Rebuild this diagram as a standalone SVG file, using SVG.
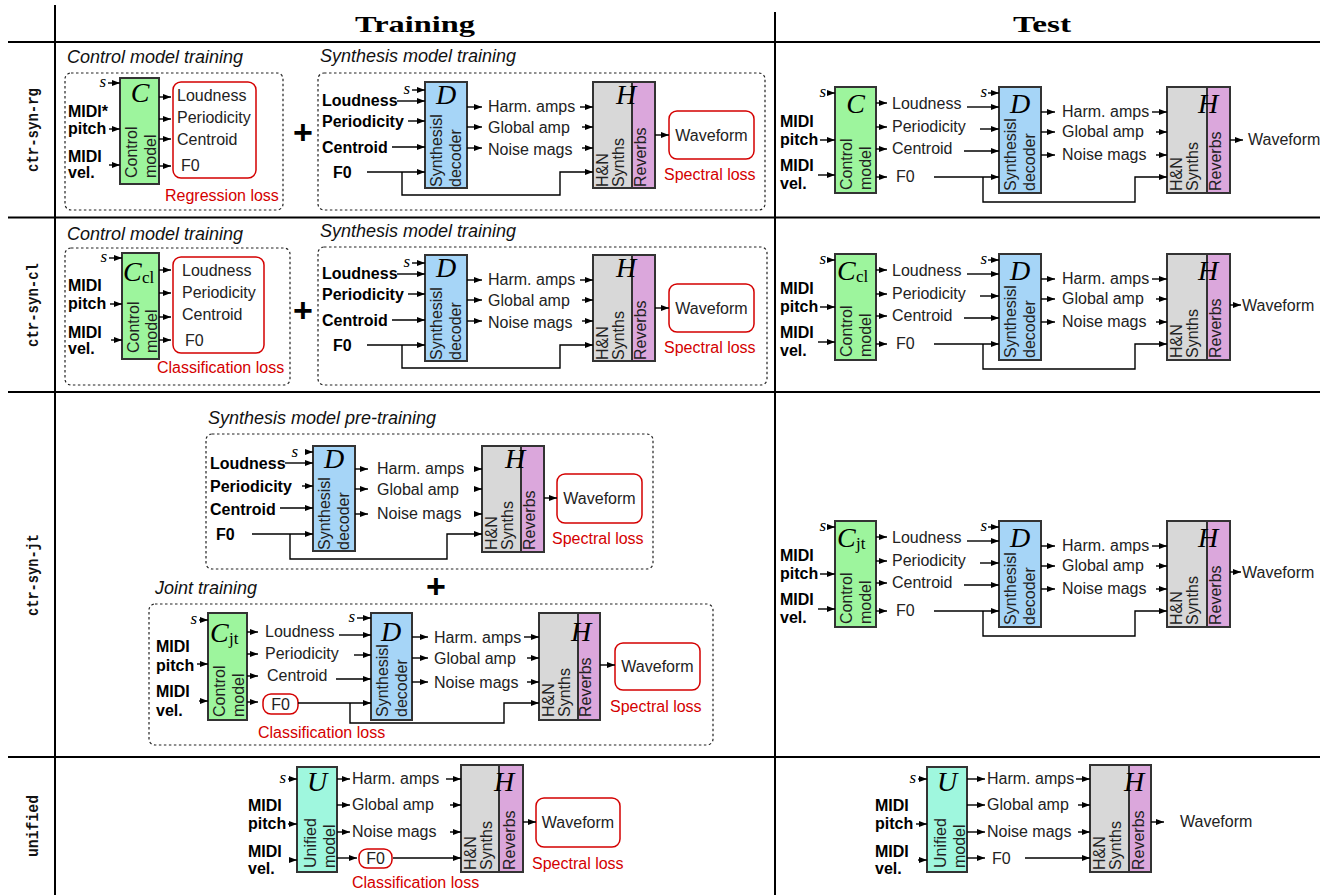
<svg xmlns="http://www.w3.org/2000/svg" width="1320" height="895" viewBox="0 0 1320 895">
<defs>
<marker id="ah" viewBox="0 0 8 6" refX="8" refY="3" markerWidth="8" markerHeight="6" markerUnits="userSpaceOnUse" orient="auto"><path d="M0,0 L8,3 L0,6 z" fill="#000"/></marker>
<style>
.tbl{stroke:#000;stroke-width:2;fill:none}
.hd{font-family:"Liberation Serif",serif;font-weight:bold;font-size:24px;fill:#000}
.rl{font-family:"Liberation Mono",monospace;font-weight:bold;font-size:16.5px;fill:#111}
.ti{font-family:"Liberation Sans",sans-serif;font-style:italic;font-size:18px;fill:#111}
.t{font-family:"Liberation Sans",sans-serif;font-size:16px;fill:#222}
.tb{font-family:"Liberation Sans",sans-serif;font-weight:bold;font-size:16px;fill:#000}
.rd{font-family:"Liberation Sans",sans-serif;font-size:16px;fill:#d40000}
.m{font-family:"Liberation Serif",serif;font-style:italic;font-size:28px;fill:#000}
.sub{font-family:"Liberation Serif",serif;font-size:17px;fill:#000}
.s{font-family:"Liberation Serif",serif;font-style:italic;font-size:17px;fill:#000}
.plus{font-family:"Liberation Sans",sans-serif;font-weight:bold;font-size:34px;fill:#000}
.bx{stroke:#333;stroke-width:2}
.gr{fill:#9df59d}.bl{fill:#a6d5f7}.hg{fill:#d8d8d8}.pu{fill:#dba7dc}.tq{fill:#9ff7de}
.dash{fill:none;stroke:#222;stroke-width:1.2;stroke-dasharray:2.5 2.5}
.loss{fill:#fff;stroke:#d40000;stroke-width:1.5}
.c{fill:none;stroke:#000;stroke-width:1.4}
.a{marker-end:url(#ah)}
</style>
</defs>
<rect x="0" y="0" width="1320" height="895" fill="#fff"/>

<g id="table">
<path class="tbl" d="M55,5 V895 M775,12 V895 M8,42 H1320 M8,217.5 H1320 M8,392 H1320 M8,757 H1320"/>
<text class="hd" x="415" y="32" text-anchor="middle" textLength="120" lengthAdjust="spacingAndGlyphs">Training</text>
<text class="hd" x="1042" y="32" text-anchor="middle" textLength="58" lengthAdjust="spacingAndGlyphs">Test</text>
<text class="rl" transform="translate(38,130) rotate(-90)" text-anchor="middle" textLength="84" lengthAdjust="spacingAndGlyphs">ctr-syn-rg</text>
<text class="rl" transform="translate(38,305) rotate(-90)" text-anchor="middle" textLength="84" lengthAdjust="spacingAndGlyphs">ctr-syn-cl</text>
<text class="rl" transform="translate(38,575) rotate(-90)" text-anchor="middle" textLength="82" lengthAdjust="spacingAndGlyphs">ctr-syn-jt</text>
<text class="rl" transform="translate(38,826) rotate(-90)" text-anchor="middle" textLength="62" lengthAdjust="spacingAndGlyphs">unified</text>
</g>

<!-- ============ ROW 1 control training ============ -->
<g id="r1-ctrl">
<text class="ti" x="67" y="63">Control model training</text>
<rect class="dash" x="65" y="73" width="218" height="137" rx="6"/>
<text class="s" x="106" y="87" text-anchor="end">s</text>
<text class="tb" x="68" y="117">MIDI*</text>
<text class="tb" x="68" y="134">pitch</text>
<text class="tb" x="68" y="162">MIDI</text>
<text class="tb" x="68" y="178">vel.</text>
<g id="r1-C">
<rect class="bx gr" x="120" y="78" width="39" height="106"/>
<text class="m" x="140" y="102" text-anchor="middle">C</text>
<text class="t" transform="translate(137,178) rotate(-90)">Control</text>
<text class="t" transform="translate(156,178) rotate(-90)">model</text>
</g>
<g id="r1-regbox">
<rect class="loss" x="173" y="82" width="83" height="96" rx="8"/>
<text class="t" x="177" y="101">Loudness</text>
<text class="t" x="177" y="123">Periodicity</text>
<text class="t" x="177" y="145">Centroid</text>
<text class="t" x="181" y="171">F0</text>
</g>
<text class="rd" x="165" y="201">Regression loss</text>
<text class="plus" x="303" y="144" text-anchor="middle">+</text>
</g>

<g id="r1-synth">
<text class="ti" x="320" y="62">Synthesis model training</text>
<rect class="dash" x="318" y="73" width="447" height="137" rx="6"/>
<text class="s" x="410" y="94" text-anchor="end">s</text>
<text class="tb" x="322" y="106">Loudness</text>
<text class="tb" x="322" y="127">Periodicity</text>
<text class="tb" x="322" y="153">Centroid</text>
<text class="tb" x="333" y="178">F0</text>
<g id="r1-D">
<rect class="bx bl" x="425" y="82" width="42" height="106"/>
<text class="m" x="446" y="104" text-anchor="middle">D</text>
<text class="t" transform="translate(442,187) rotate(-90)">Synthesisl</text>
<text class="t" transform="translate(461,187) rotate(-90)">decoder</text>
</g>
<text class="t" x="488" y="112">Harm. amps</text>
<text class="t" x="488" y="133">Global amp</text>
<text class="t" x="488" y="155">Noise mags</text>
<g id="r1-H">
<rect class="bx hg" x="593" y="82" width="39" height="106"/>
<rect class="bx pu" x="632" y="82" width="23" height="106"/>
<text class="m" x="626" y="104" text-anchor="middle">H</text>
<text class="t" transform="translate(608,187) rotate(-90)">H&amp;N</text>
<text class="t" transform="translate(623.5,187) rotate(-90)">Synths</text>
<text class="t" transform="translate(646,187) rotate(-90)">Reverbs</text>
</g>
<g id="r1-wave">
<rect class="loss" x="669" y="111" width="85" height="48" rx="8"/>
<text class="t" x="711.5" y="141" text-anchor="middle">Waveform</text>
</g>
<text class="rd" x="664" y="180">Spectral loss</text>
</g>

<g id="r1-test">
<text class="s" x="826" y="97" text-anchor="end">s</text>
<text class="tb" x="780" y="127">MIDI</text>
<text class="tb" x="780" y="145">pitch</text>
<text class="tb" x="780" y="171">MIDI</text>
<text class="tb" x="780" y="189">vel.</text>
<g id="t1-C">
<rect class="bx gr" x="835" y="87" width="41" height="106"/>
<text class="m" x="855.5" y="113" text-anchor="middle">C</text>
<text class="t" transform="translate(852,190) rotate(-90)">Control</text>
<text class="t" transform="translate(871,190) rotate(-90)">model</text>
</g>
<text class="t" x="892" y="109">Loudness</text>
<text class="t" x="892" y="132">Periodicity</text>
<text class="t" x="892" y="154">Centroid</text>
<text class="t" x="896" y="182">F0</text>
<text class="s" x="987" y="97" text-anchor="end">s</text>
<g id="t1-D">
<rect class="bx bl" x="999" y="87" width="42" height="106"/>
<text class="m" x="1020" y="113" text-anchor="middle">D</text>
<text class="t" transform="translate(1016,191) rotate(-90)">Synthesisl</text>
<text class="t" transform="translate(1035,191) rotate(-90)">decoder</text>
</g>
<text class="t" x="1062" y="117">Harm. amps</text>
<text class="t" x="1062" y="137">Global amp</text>
<text class="t" x="1062" y="160">Noise mags</text>
<g id="t1-H">
<rect class="bx hg" x="1167" y="87" width="40" height="106"/>
<rect class="bx pu" x="1207" y="87" width="23" height="106"/>
<text class="m" x="1208" y="113" text-anchor="middle">H</text>
<text class="t" transform="translate(1182,191) rotate(-90)">H&amp;N</text>
<text class="t" transform="translate(1197.5,191) rotate(-90)">Synths</text>
<text class="t" transform="translate(1221,191) rotate(-90)">Reverbs</text>
</g>
<text class="t" x="1248" y="145">Waveform</text>
</g>

<!-- ============ ROW 2 ============ -->
<g id="r2-ctrl">
<text class="ti" x="67" y="240">Control model training</text>
<rect class="dash" x="65" y="248" width="225" height="137" rx="6"/>
<text class="s" x="107" y="262" text-anchor="end">s</text>
<text class="tb" x="68" y="291">MIDI</text>
<text class="tb" x="68" y="309">pitch</text>
<text class="tb" x="68" y="338">MIDI</text>
<text class="tb" x="68" y="354">vel.</text>
<g id="r2-C">
<rect class="bx gr" x="122" y="253" width="37" height="106"/>
<text class="m" x="123" y="281">C</text><text class="sub" x="142" y="283">cl</text>
<text class="t" transform="translate(139,353) rotate(-90)">Control</text>
<text class="t" transform="translate(157,353) rotate(-90)">model</text>
</g>
<g id="r2-clsbox">
<rect class="loss" x="173" y="257" width="91" height="96" rx="8"/>
<text class="t" x="182" y="276">Loudness</text>
<text class="t" x="182" y="298">Periodicity</text>
<text class="t" x="182" y="320">Centroid</text>
<text class="t" x="185" y="346">F0</text>
</g>
<text class="rd" x="157" y="373">Classification loss</text>
<text class="plus" x="303" y="322" text-anchor="middle">+</text>
</g>

<g id="r2-synth" transform="translate(0,173)">
<text class="ti" x="320" y="64">Synthesis model training</text>
<rect class="dash" x="318" y="74" width="449" height="138" rx="6"/>
<text class="s" x="410" y="94" text-anchor="end">s</text>
<text class="tb" x="322" y="106">Loudness</text>
<text class="tb" x="322" y="127">Periodicity</text>
<text class="tb" x="322" y="153">Centroid</text>
<text class="tb" x="333" y="178">F0</text>
<g id="r2-D">
<rect class="bx bl" x="425" y="82" width="42" height="106"/>
<text class="m" x="446" y="104" text-anchor="middle">D</text>
<text class="t" transform="translate(442,187) rotate(-90)">Synthesisl</text>
<text class="t" transform="translate(461,187) rotate(-90)">decoder</text>
</g>
<text class="t" x="488" y="112">Harm. amps</text>
<text class="t" x="488" y="133">Global amp</text>
<text class="t" x="488" y="155">Noise mags</text>
<g id="r2-H">
<rect class="bx hg" x="593" y="82" width="39" height="106"/>
<rect class="bx pu" x="632" y="82" width="23" height="106"/>
<text class="m" x="626" y="104" text-anchor="middle">H</text>
<text class="t" transform="translate(608,187) rotate(-90)">H&amp;N</text>
<text class="t" transform="translate(623.5,187) rotate(-90)">Synths</text>
<text class="t" transform="translate(646,187) rotate(-90)">Reverbs</text>
</g>
<g id="r2-wave">
<rect class="loss" x="669" y="111" width="85" height="48" rx="8"/>
<text class="t" x="711.5" y="141" text-anchor="middle">Waveform</text>
</g>
<text class="rd" x="664" y="180">Spectral loss</text>
</g>

<g id="r2-test" transform="translate(0,167)">
<text class="s" x="826" y="97" text-anchor="end">s</text>
<text class="tb" x="780" y="127">MIDI</text>
<text class="tb" x="780" y="145">pitch</text>
<text class="tb" x="780" y="171">MIDI</text>
<text class="tb" x="780" y="189">vel.</text>
<g id="t2-C">
<rect class="bx gr" x="835" y="87" width="41" height="106"/>
<text class="m" x="837" y="113">C</text><text class="sub" x="856" y="115">cl</text>
<text class="t" transform="translate(852,190) rotate(-90)">Control</text>
<text class="t" transform="translate(871,190) rotate(-90)">model</text>
</g>
<text class="t" x="892" y="109">Loudness</text>
<text class="t" x="892" y="132">Periodicity</text>
<text class="t" x="892" y="154">Centroid</text>
<text class="t" x="896" y="182">F0</text>
<text class="s" x="987" y="97" text-anchor="end">s</text>
<g id="t2-D">
<rect class="bx bl" x="999" y="87" width="42" height="106"/>
<text class="m" x="1020" y="113" text-anchor="middle">D</text>
<text class="t" transform="translate(1016,191) rotate(-90)">Synthesisl</text>
<text class="t" transform="translate(1035,191) rotate(-90)">decoder</text>
</g>
<text class="t" x="1062" y="117">Harm. amps</text>
<text class="t" x="1062" y="137">Global amp</text>
<text class="t" x="1062" y="160">Noise mags</text>
<g id="t2-H">
<rect class="bx hg" x="1167" y="87" width="40" height="106"/>
<rect class="bx pu" x="1207" y="87" width="23" height="106"/>
<text class="m" x="1208" y="113" text-anchor="middle">H</text>
<text class="t" transform="translate(1182,191) rotate(-90)">H&amp;N</text>
<text class="t" transform="translate(1197.5,191) rotate(-90)">Synths</text>
<text class="t" transform="translate(1221,191) rotate(-90)">Reverbs</text>
</g>
<text class="t" x="1242" y="144">Waveform</text>
</g>

<!-- ============ ROW 3 ============ -->
<g id="r3-pre" transform="translate(-112,363)">
<text class="ti" x="320" y="61">Synthesis model pre-training</text>
<rect class="dash" x="318" y="71" width="447" height="135" rx="6"/>
<text class="s" x="410" y="94" text-anchor="end">s</text>
<text class="tb" x="322" y="106">Loudness</text>
<text class="tb" x="322" y="129">Periodicity</text>
<text class="tb" x="322" y="152">Centroid</text>
<text class="tb" x="328" y="177">F0</text>
<g id="r3-preD">
<rect class="bx bl" x="425" y="83" width="42" height="105"/>
<text class="m" x="446" y="105" text-anchor="middle">D</text>
<text class="t" transform="translate(442,187) rotate(-90)">Synthesisl</text>
<text class="t" transform="translate(461,187) rotate(-90)">decoder</text>
</g>
<text class="t" x="489" y="111">Harm. amps</text>
<text class="t" x="489" y="132">Global amp</text>
<text class="t" x="489" y="156">Noise mags</text>
<g id="r3-preH">
<rect class="bx hg" x="594" y="83" width="39" height="106"/>
<rect class="bx pu" x="633" y="83" width="23" height="106"/>
<text class="m" x="627" y="105" text-anchor="middle">H</text>
<text class="t" transform="translate(609,187) rotate(-90)">H&amp;N</text>
<text class="t" transform="translate(624.5,187) rotate(-90)">Synths</text>
<text class="t" transform="translate(647,187) rotate(-90)">Reverbs</text>
</g>
<g id="r3-prewave">
<rect class="loss" x="669" y="111" width="85" height="49" rx="8"/>
<text class="t" x="711.5" y="141" text-anchor="middle">Waveform</text>
</g>
<text class="rd" x="664" y="181">Spectral loss</text>
</g>

<text class="plus" x="436" y="598" text-anchor="middle">+</text>

<g id="r3-joint">
<text class="ti" x="155" y="594">Joint training</text>
<rect class="dash" x="149" y="604" width="564" height="141" rx="6"/>
<text class="s" x="197" y="624" text-anchor="end">s</text>
<text class="tb" x="156" y="652">MIDI</text>
<text class="tb" x="156" y="671">pitch</text>
<text class="tb" x="156" y="697">MIDI</text>
<text class="tb" x="156" y="716">vel.</text>
<g id="r3-Cjt">
<rect class="bx gr" x="208" y="613" width="39" height="107"/>
<text class="m" x="210" y="642">C</text><text class="sub" x="229" y="644">jt</text>
<text class="t" transform="translate(225,717) rotate(-90)">Control</text>
<text class="t" transform="translate(244,717) rotate(-90)">model</text>
</g>
<text class="t" x="265" y="637">Loudness</text>
<text class="t" x="265" y="659">Periodicity</text>
<text class="t" x="267" y="681">Centroid</text>
<g id="r3-F0">
<rect class="loss" x="263" y="694" width="35" height="20" rx="8"/>
<text class="t" x="280.5" y="709.5" text-anchor="middle">F0</text>
</g>
<text class="s" x="355" y="622" text-anchor="end">s</text>
<g id="r3-D">
<rect class="bx bl" x="371" y="613" width="41" height="107"/>
<text class="m" x="391" y="641" text-anchor="middle">D</text>
<text class="t" transform="translate(388,717) rotate(-90)">Synthesisl</text>
<text class="t" transform="translate(407,717) rotate(-90)">decoder</text>
</g>
<text class="t" x="434" y="643">Harm. amps</text>
<text class="t" x="434" y="664">Global amp</text>
<text class="t" x="434" y="688">Noise mags</text>
<g id="r3-H">
<rect class="bx hg" x="539" y="613" width="39" height="107"/>
<rect class="bx pu" x="578" y="613" width="22" height="107"/>
<text class="m" x="581" y="641" text-anchor="middle">H</text>
<text class="t" transform="translate(554,717) rotate(-90)">H&amp;N</text>
<text class="t" transform="translate(569.5,717) rotate(-90)">Synths</text>
<text class="t" transform="translate(591,717) rotate(-90)">Reverbs</text>
</g>
<g id="r3-wave">
<rect class="loss" x="615" y="643" width="85" height="47" rx="8"/>
<text class="t" x="657.5" y="672" text-anchor="middle">Waveform</text>
</g>
<text class="rd" x="610" y="712">Spectral loss</text>
<text class="rd" x="258" y="738">Classification loss</text>
</g>

<g id="r3-test" transform="translate(0,434)">
<text class="s" x="826" y="97" text-anchor="end">s</text>
<text class="tb" x="780" y="127">MIDI</text>
<text class="tb" x="780" y="145">pitch</text>
<text class="tb" x="780" y="171">MIDI</text>
<text class="tb" x="780" y="189">vel.</text>
<g id="t3-C">
<rect class="bx gr" x="835" y="87" width="41" height="106"/>
<text class="m" x="837" y="113">C</text><text class="sub" x="856" y="115">jt</text>
<text class="t" transform="translate(852,190) rotate(-90)">Control</text>
<text class="t" transform="translate(871,190) rotate(-90)">model</text>
</g>
<text class="t" x="892" y="109">Loudness</text>
<text class="t" x="892" y="132">Periodicity</text>
<text class="t" x="892" y="154">Centroid</text>
<text class="t" x="896" y="182">F0</text>
<text class="s" x="987" y="97" text-anchor="end">s</text>
<g id="t3-D">
<rect class="bx bl" x="999" y="87" width="42" height="106"/>
<text class="m" x="1020" y="113" text-anchor="middle">D</text>
<text class="t" transform="translate(1016,191) rotate(-90)">Synthesisl</text>
<text class="t" transform="translate(1035,191) rotate(-90)">decoder</text>
</g>
<text class="t" x="1062" y="117">Harm. amps</text>
<text class="t" x="1062" y="137">Global amp</text>
<text class="t" x="1062" y="160">Noise mags</text>
<g id="t3-H">
<rect class="bx hg" x="1167" y="87" width="40" height="106"/>
<rect class="bx pu" x="1207" y="87" width="23" height="106"/>
<text class="m" x="1208" y="113" text-anchor="middle">H</text>
<text class="t" transform="translate(1182,191) rotate(-90)">H&amp;N</text>
<text class="t" transform="translate(1197.5,191) rotate(-90)">Synths</text>
<text class="t" transform="translate(1221,191) rotate(-90)">Reverbs</text>
</g>
<text class="t" x="1242" y="144">Waveform</text>
</g>

<!-- ============ ROW 4 ============ -->
<g id="r4-train">
<text class="s" x="286" y="783" text-anchor="end">s</text>
<text class="tb" x="248" y="811">MIDI</text>
<text class="tb" x="248" y="829">pitch</text>
<text class="tb" x="248" y="857">MIDI</text>
<text class="tb" x="248" y="874">vel.</text>
<g id="r4-U">
<rect class="bx tq" x="297" y="767" width="40" height="105"/>
<text class="m" x="317" y="791" text-anchor="middle">U</text>
<text class="t" transform="translate(316,868) rotate(-90)">Unified</text>
<text class="t" transform="translate(334.5,868) rotate(-90)">model</text>
</g>
<text class="t" x="352" y="784">Harm. amps</text>
<text class="t" x="352" y="810">Global amp</text>
<text class="t" x="352" y="837">Noise mags</text>
<g id="r4-F0">
<rect class="loss" x="359" y="849" width="33" height="19" rx="8"/>
<text class="t" x="375.5" y="864" text-anchor="middle">F0</text>
</g>
<g id="r4-H">
<rect class="bx hg" x="461" y="765" width="38" height="107"/>
<rect class="bx pu" x="499" y="765" width="24" height="107"/>
<text class="m" x="504" y="791" text-anchor="middle">H</text>
<text class="t" transform="translate(476,870) rotate(-90)">H&amp;N</text>
<text class="t" transform="translate(492,870) rotate(-90)">Synths</text>
<text class="t" transform="translate(515,870) rotate(-90)">Reverbs</text>
</g>
<g id="r4-wave">
<rect class="loss" x="536" y="798" width="84" height="49" rx="8"/>
<text class="t" x="578" y="828" text-anchor="middle">Waveform</text>
</g>
<text class="rd" x="532" y="869">Spectral loss</text>
<text class="rd" x="352" y="888">Classification loss</text>
</g>

<g id="r4-test">
<text class="s" x="916" y="783" text-anchor="end">s</text>
<text class="tb" x="875" y="811">MIDI</text>
<text class="tb" x="875" y="829">pitch</text>
<text class="tb" x="875" y="857">MIDI</text>
<text class="tb" x="875" y="874">vel.</text>
<g id="t4-U">
<rect class="bx tq" x="927" y="767" width="40" height="105"/>
<text class="m" x="947" y="791" text-anchor="middle">U</text>
<text class="t" transform="translate(946,868) rotate(-90)">Unified</text>
<text class="t" transform="translate(964.5,868) rotate(-90)">model</text>
</g>
<text class="t" x="987" y="784">Harm. amps</text>
<text class="t" x="987" y="810">Global amp</text>
<text class="t" x="987" y="837">Noise mags</text>
<text class="t" x="992" y="864">F0</text>
<g id="t4-H">
<rect class="bx hg" x="1090" y="765" width="39" height="107"/>
<rect class="bx pu" x="1129" y="765" width="22" height="107"/>
<text class="m" x="1134" y="791" text-anchor="middle">H</text>
<text class="t" transform="translate(1105,870) rotate(-90)">H&amp;N</text>
<text class="t" transform="translate(1121,870) rotate(-90)">Synths</text>
<text class="t" transform="translate(1144,870) rotate(-90)">Reverbs</text>
</g>
<text class="t" x="1180" y="827">Waveform</text>
</g>

<!-- ============ CONNECTORS ============ -->
<g id="connectors" class="c">
<g id="c-r1-ctrl">
<path class="a" d="M108,83 H120"/><path class="a" d="M109,129 H120"/><path class="a" d="M109,165 H120"/>
<path class="a" d="M159,97 H171"/><path class="a" d="M159,119 H171"/><path class="a" d="M159,139 H171"/><path class="a" d="M159,166 H171"/>
</g>
<g id="c-r1-synth">
<path class="a" d="M412,90 H425"/><path class="a" d="M397,101 H425"/><path class="a" d="M408,121 H425"/><path class="a" d="M392,147 H425"/><path class="a" d="M367,172 H425"/>
<path class="a" d="M467,107 H482"/><path class="a" d="M467,127 H482"/><path class="a" d="M467,148 H482"/>
<path class="a" d="M580,107 H593"/><path class="a" d="M582,127 H593"/><path class="a" d="M582,148 H593"/>
<path class="a" d="M402,172 V195 H560 V172 H593"/>
<path class="a" d="M655,135 H669"/>
</g>
<g id="c-r1-test">
<path class="a" d="M827,93 H835"/><path class="a" d="M820,140 H835"/><path class="a" d="M818,175 H835"/>
<path class="a" d="M876,103 H887"/><path class="a" d="M876,127 H887"/><path class="a" d="M876,149 H887"/><path class="a" d="M876,177 H887"/>
<path class="a" d="M988,93 H999"/><path class="a" d="M967,107 H999"/><path class="a" d="M980,129 H999"/><path class="a" d="M964,151 H999"/><path class="a" d="M934,177 H999"/>
<path class="a" d="M1041,112 H1055"/><path class="a" d="M1041,132 H1055"/><path class="a" d="M1041,155 H1055"/>
<path class="a" d="M1152,112 H1167"/><path class="a" d="M1156,132 H1167"/><path class="a" d="M1156,155 H1167"/>
<path class="a" d="M983,177 V202 H1135 V177 H1167"/>
<path class="a" d="M1230,140 H1243"/>
</g>
<g id="c-r2-ctrl">
<path class="a" d="M109,258 H122"/><path class="a" d="M110,304 H122"/><path class="a" d="M111,340 H122"/>
<path class="a" d="M159,270 H171"/><path class="a" d="M159,293 H171"/><path class="a" d="M159,317 H171"/><path class="a" d="M159,340 H171"/>
</g>
<g id="c-r2-synth" transform="translate(0,173)">
<path class="a" d="M412,90 H425"/><path class="a" d="M397,101 H425"/><path class="a" d="M408,121 H425"/><path class="a" d="M392,147 H425"/><path class="a" d="M367,172 H425"/>
<path class="a" d="M467,107 H482"/><path class="a" d="M467,127 H482"/><path class="a" d="M467,148 H482"/>
<path class="a" d="M580,107 H593"/><path class="a" d="M582,127 H593"/><path class="a" d="M582,148 H593"/>
<path class="a" d="M402,172 V195 H560 V172 H593"/>
<path class="a" d="M655,135 H669"/>
</g>
<g id="c-r2-test" transform="translate(0,167)">
<path class="a" d="M827,93 H835"/><path class="a" d="M820,140 H835"/><path class="a" d="M818,175 H835"/>
<path class="a" d="M876,103 H887"/><path class="a" d="M876,127 H887"/><path class="a" d="M876,149 H887"/><path class="a" d="M876,177 H887"/>
<path class="a" d="M988,93 H999"/><path class="a" d="M967,107 H999"/><path class="a" d="M980,129 H999"/><path class="a" d="M964,151 H999"/><path class="a" d="M934,177 H999"/>
<path class="a" d="M1041,112 H1055"/><path class="a" d="M1041,132 H1055"/><path class="a" d="M1041,155 H1055"/>
<path class="a" d="M1152,112 H1167"/><path class="a" d="M1156,132 H1167"/><path class="a" d="M1156,155 H1167"/>
<path class="a" d="M983,177 V202 H1135 V177 H1167"/>
<path class="a" d="M1230,138 H1241"/>
</g>
<g id="c-r3-pre" transform="translate(-112,363)">
<path class="a" d="M417,89 H425"/><path class="a" d="M397,100 H425"/><path class="a" d="M414,123 H425"/><path class="a" d="M392,145 H425"/><path class="a" d="M364,171 H425"/>
<path class="a" d="M467,106 H480"/><path class="a" d="M467,126 H480"/><path class="a" d="M467,151 H480"/>
<path class="a" d="M587,106 H594"/><path class="a" d="M587,126 H594"/><path class="a" d="M587,151 H594"/>
<path class="a" d="M402,171 V196 H559 V171 H594"/>
<path class="a" d="M656,135 H669"/>
</g>
<g id="c-r3-joint">
<path class="a" d="M199,620 H208"/><path class="a" d="M197,664 H208"/><path class="a" d="M199,701 H208"/>
<path class="a" d="M247,632 H258"/><path class="a" d="M247,654 H258"/><path class="a" d="M247,676 H258"/><path class="a" d="M247,702 H258"/>
<path class="a" d="M357,618 H371"/><path class="a" d="M339,635 H371"/><path class="a" d="M354,655 H371"/><path class="a" d="M336,679 H371"/><path class="a" d="M298,703 H371"/>
<path class="a" d="M412,637 H428"/><path class="a" d="M412,658 H428"/><path class="a" d="M412,682 H428"/>
<path class="a" d="M524,637 H539"/><path class="a" d="M527,658 H539"/><path class="a" d="M527,682 H539"/>
<path class="a" d="M350,703 V723 H504 V703 H539"/>
<path class="a" d="M600,665 H615"/>
</g>
<g id="c-r3-test" transform="translate(0,434)">
<path class="a" d="M827,93 H835"/><path class="a" d="M820,140 H835"/><path class="a" d="M818,175 H835"/>
<path class="a" d="M876,103 H887"/><path class="a" d="M876,127 H887"/><path class="a" d="M876,149 H887"/><path class="a" d="M876,177 H887"/>
<path class="a" d="M988,93 H999"/><path class="a" d="M967,107 H999"/><path class="a" d="M980,129 H999"/><path class="a" d="M964,151 H999"/><path class="a" d="M934,177 H999"/>
<path class="a" d="M1041,112 H1055"/><path class="a" d="M1041,132 H1055"/><path class="a" d="M1041,155 H1055"/>
<path class="a" d="M1152,112 H1167"/><path class="a" d="M1156,132 H1167"/><path class="a" d="M1156,155 H1167"/>
<path class="a" d="M983,177 V202 H1135 V177 H1167"/>
<path class="a" d="M1230,138 H1241"/>
</g>
<g id="c-r4-train">
<path class="a" d="M288,779 H297"/><path class="a" d="M288,824 H297"/><path class="a" d="M290,860 H297"/>
<path class="a" d="M337,779 H350"/><path class="a" d="M337,805 H350"/><path class="a" d="M337,832 H350"/><path class="a" d="M337,858 H357"/>
<path class="a" d="M446,779 H461"/><path class="a" d="M450,805 H461"/><path class="a" d="M450,832 H461"/>
<path class="a" d="M393,858 H461"/>
<path class="a" d="M523,822 H536"/>
</g>
<g id="c-r4-test">
<path class="a" d="M918,779 H927"/><path class="a" d="M916,824 H927"/><path class="a" d="M918,860 H927"/>
<path class="a" d="M967,779 H985"/><path class="a" d="M967,805 H985"/><path class="a" d="M967,832 H985"/><path class="a" d="M967,858 H985"/>
<path class="a" d="M1076,779 H1090"/><path class="a" d="M1078,805 H1090"/><path class="a" d="M1078,832 H1090"/>
<path class="a" d="M1025,858 H1090"/>
<path class="a" d="M1151,822 H1164"/>
</g>
</g>
</svg>
